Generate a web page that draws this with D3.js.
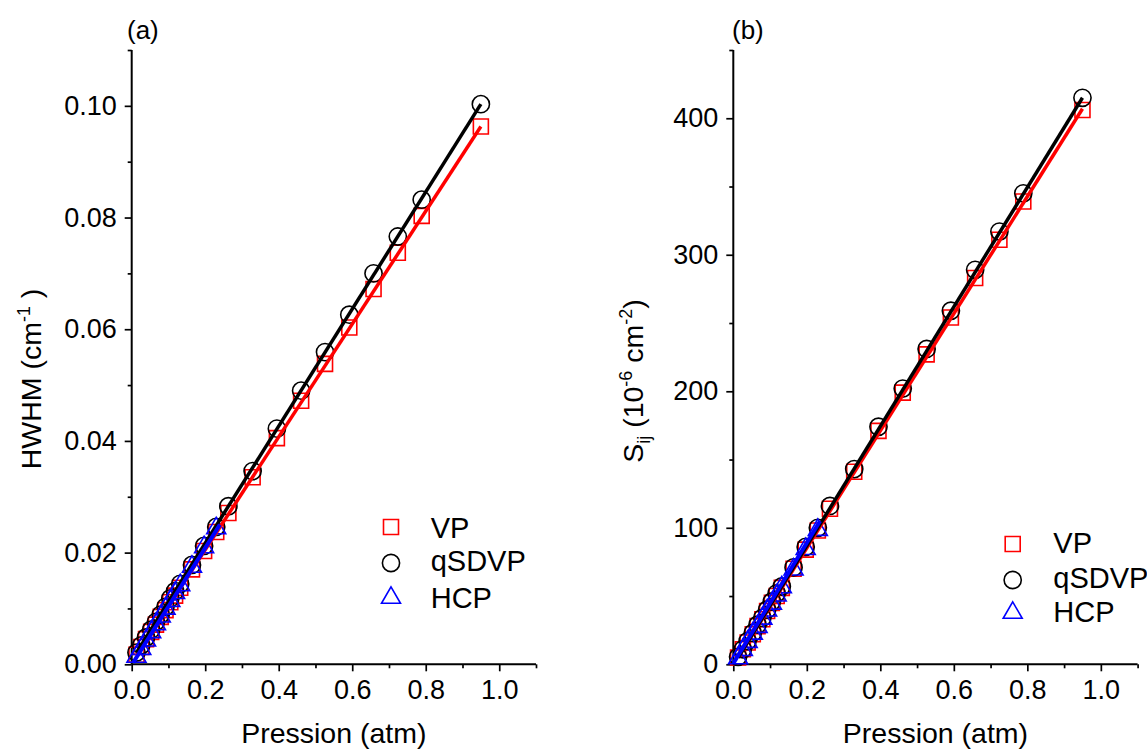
<!DOCTYPE html>
<html><head><meta charset="utf-8">
<script src="https://cdn.jsdelivr.net/npm/d3@7"></script>
<style>
body{margin:0;background:#fff;}
svg text{font-family:Arial,"Liberation Sans",sans-serif;fill:#000;}
</style></head>
<body><svg id="c" width="1147" height="751"></svg>
<script>
// ---------- data ----------
const xTicks = [0.0, 0.2, 0.4, 0.6, 0.8, 1.0];
const xMinor = [0.1, 0.3, 0.5, 0.7, 0.9, 1.1];
const yTicksA = [0.00, 0.02, 0.04, 0.06, 0.08, 0.10];
const yMinorA = [0.01, 0.03, 0.05, 0.07, 0.09, 0.11];
const yTicksB = [0, 100, 200, 300, 400];
const yMinorB = [50, 150, 250, 350, 450];

// pressures (atm)
const pVP    = [0.013,0.026,0.039,0.053,0.066,0.079,0.092,0.105,0.118,0.132,0.164,0.197,0.230,0.263,0.329,0.395,0.461,0.526,0.592,0.658,0.724,0.789,0.950];
const pQS    = [0.013,0.026,0.039,0.053,0.066,0.079,0.092,0.105,0.118,0.132,0.164,0.197,0.230,0.263,0.329,0.395,0.461,0.526,0.592,0.658,0.724,0.789,0.950];
const pHCP   = [0.013,0.026,0.039,0.053,0.066,0.079,0.092,0.105,0.118,0.132,0.164,0.197,0.230];

// (a) HWHM (cm-1)
const hwVP  = [0.0017,0.0031,0.0045,0.0058,0.0071,0.0085,0.0097,0.0111,0.0123,0.0137,0.0170,0.0203,0.0237,0.0271,0.0335,0.0405,0.0472,0.0538,0.0603,0.0672,0.0737,0.0803,0.0963];
const hwQS  = [0.0021,0.0034,0.0048,0.0062,0.0076,0.0089,0.0103,0.0118,0.0131,0.0144,0.0178,0.0212,0.0246,0.0283,0.0346,0.0422,0.0490,0.0559,0.0626,0.0700,0.0766,0.0832,0.1003];
const hwHCP = [0.0015,0.0029,0.0044,0.0059,0.0073,0.0087,0.0101,0.0115,0.0129,0.0143,0.0176,0.0211,0.0245];
const fitA_VP  = [[0.013,0.0016],[0.950,0.0963]];
const fitA_QS  = [[0.013,0.0021],[0.950,0.1003]];
const fitA_HCP = [[0.004,0.0003],[0.240,0.0250]];

// (b) S_ij (1e-6 cm-2)
const sVP  = [5,11,16,22,28,33,39,45,50,56,70,84,98,114,141,171,199,227,254,283,311,339,406];
const sQS  = [5.5,11,17,23,29,34,40,46,52,57,71,86,100,116,143,174,202,231,259,289,317,345,415];
const sHCP = [5,11,17,23,28,34,40,45,51,57,70,85,99];
const fitB_VP  = [[0.013,5],[0.950,407]];
const fitB_QS  = [[0.013,5],[0.950,415]];
const fitB_HCP = [[0.000,0.7],[0.236,105]];

const legendNames = ["VP","qSDVP","HCP"];
const colors = {VP:"#ff0000", QS:"#000000", HCP:"#0000ff"};

// ---------- drawing ----------
const svg = d3.select("#c");
const FONT_TICK = 27, FONT_TITLE = 28.5, FONT_LEG = 29;

function sqPath(s){return `M${-s/2},${-s/2}h${s}v${s}h${-s}Z`;}
function triPath(s){const h=s*0.866;return `M0,${-h*0.62}L${s/2},${h*0.38}L${-s/2},${h*0.38}Z`;}

function drawMarker(g, type, x, y){
  if(type==="VP") g.append("path").attr("d",sqPath(15)).attr("transform",`translate(${x},${y})`)
      .attr("fill","none").attr("stroke",colors.VP).attr("stroke-width",1.6);
  else if(type==="QS") g.append("circle").attr("cx",x).attr("cy",y).attr("r",8.6)
      .attr("fill","none").attr("stroke",colors.QS).attr("stroke-width",1.6);
  else g.append("path").attr("d",triPath(19)).attr("transform",`translate(${x},${y})`)
      .attr("fill","none").attr("stroke",colors.HCP).attr("stroke-width",1.6);
}

function panel(cfg){
  const x = d3.scaleLinear().domain([0,1.1]).range([cfg.x0, cfg.x0+404.3]);
  const y = d3.scaleLinear().domain(cfg.yDom).range([664.3, 50]);
  const g = svg.append("g");

  const xa = g.append("g").attr("transform",`translate(0,${y(0)})`)
    .call(d3.axisBottom(x).tickValues(xTicks).tickFormat(d3.format(".1f")).tickSize(7).tickPadding(9));
  const xm = g.append("g").attr("transform",`translate(0,${y(0)})`)
    .call(d3.axisBottom(x).tickValues(xMinor).tickFormat("").tickSize(4).tickSizeOuter(0));
  const ya = g.append("g").attr("transform",`translate(${x(0)},0)`)
    .call(d3.axisLeft(y).tickValues(cfg.yTicks).tickFormat(cfg.yFmt).tickSize(7).tickPadding(8));
  const ym = g.append("g").attr("transform",`translate(${x(0)},0)`)
    .call(d3.axisLeft(y).tickValues(cfg.yMinor).tickFormat("").tickSize(4).tickSizeOuter(0));
  [xa,xm,ya,ym].forEach(a=>{
    a.selectAll("path.domain").attr("stroke","#000").attr("stroke-width",2);
    a.selectAll(".tick line").attr("stroke","#000").attr("stroke-width",1.7);
    a.selectAll("text").style("font-size",FONT_TICK+"px").style("font-family","Arial, 'Liberation Sans', sans-serif");
  });
  xa.select("path.domain").attr("d",`M${x(0)},0H${x(1.1)}`);
  ya.select("path.domain").attr("d",`M0,${y(cfg.yDom[1])}V${y(0)}`);
  xm.select("path.domain").remove(); ym.select("path.domain").remove();

  const mg = g.append("g");
  cfg.pVP.forEach((p,i)=>drawMarker(mg,"VP",x(p),y(cfg.vVP[i])));
  cfg.pQS.forEach((p,i)=>drawMarker(mg,"QS",x(p),y(cfg.vQS[i])));
  cfg.pHCP.forEach((p,i)=>drawMarker(mg,"HCP",x(p),y(cfg.vHCP[i])));

  const line = d3.line().x(d=>x(d[0])).y(d=>y(d[1]));
  g.append("path").attr("d",line(cfg.fVP)).attr("stroke",colors.VP).attr("stroke-width",3.5).attr("fill","none");
  g.append("path").attr("d",line(cfg.fQS)).attr("stroke",colors.QS).attr("stroke-width",3.5).attr("fill","none");
  g.append("path").attr("d",line(cfg.fHCP)).attr("stroke",colors.HCP).attr("stroke-width",4).attr("fill","none");

  g.append("text").attr("x",(x(0)+x(1.1))/2).attr("y",743).attr("text-anchor","middle")
    .style("font-size",FONT_TITLE+"px").text("Pression (atm)");
  g.append("text").attr("x",cfg.labX).attr("y",39).style("font-size","26px").text(cfg.label);

  const lg = g.append("g");
  ["VP","QS","HCP"].forEach((t,i)=>{
    drawMarker(lg,t,cfg.legMX,cfg.legMY[i]);
    lg.append("text").attr("x",cfg.legTX).attr("y",cfg.legTY[i]).style("font-size",FONT_LEG+"px").text(legendNames[i]);
  });
  return g;
}

panel({x0:131.7, yDom:[0,0.11], yTicks:yTicksA, yMinor:yMinorA, yFmt:d3.format(".2f"),
  pVP:pVP, vVP:hwVP, pQS:pQS, vQS:hwQS, pHCP:pHCP, vHCP:hwHCP,
  fVP:fitA_VP, fQS:fitA_QS, fHCP:fitA_HCP, label:"(a)", labX:127,
  legMX:391, legMY:[527,563,597], legTX:430.7, legTY:[538,571,608]});
panel({x0:733.3, yDom:[0,450], yTicks:yTicksB, yMinor:yMinorB, yFmt:d3.format("d"),
  pVP:pVP, vVP:sVP, pQS:pQS, vQS:sQS, pHCP:pHCP, vHCP:sHCP,
  fVP:fitB_VP, fQS:fitB_QS, fHCP:fitB_HCP, label:"(b)", labX:732,
  legMX:1012.7, legMY:[544,580,612], legTX:1053.3, legTY:[553,588,622]});

const tA = svg.append("text").attr("transform","translate(41,379) rotate(-90)").attr("text-anchor","middle")
  .style("font-size",FONT_TITLE+"px");
tA.append("tspan").text("HWHM (cm");
tA.append("tspan").attr("dy",-11).style("font-size","18px").text("-1");
tA.append("tspan").attr("dy",11).text(" )");

const tB = svg.append("text").attr("transform","translate(643,381) rotate(-90)").attr("text-anchor","middle")
  .style("font-size",FONT_TITLE+"px");
tB.append("tspan").text("S");
tB.append("tspan").attr("dy",7).style("font-size","18px").text("ij");
tB.append("tspan").attr("dy",-7).text(" (10");
tB.append("tspan").attr("dy",-11).style("font-size","18px").text("-6");
tB.append("tspan").attr("dy",11).text(" cm");
tB.append("tspan").attr("dy",-11).style("font-size","18px").text("-2");
tB.append("tspan").attr("dy",11).text(")");
</script></body></html>
